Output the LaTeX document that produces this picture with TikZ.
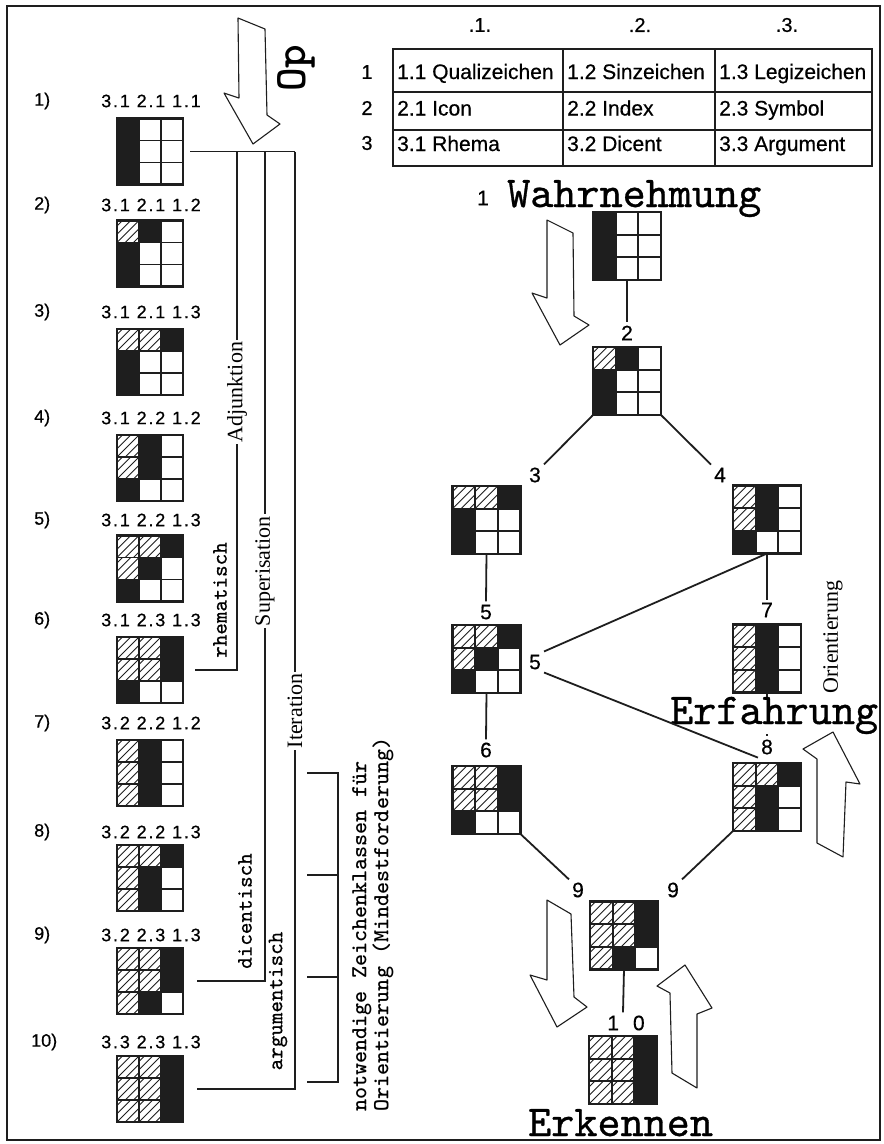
\documentclass[tikz,border=0pt]{standalone}
\usepackage{fontspec}
\setmainfont{Liberation Serif}
\setsansfont{Liberation Sans}[FakeBold=0.5]
\newfontfamily\spsans{Liberation Sans}[LetterSpace=10,FakeBold=0.5]
\newfontfamily\courf{lmmono10-regular.otf}[FakeBold=0.7]
\usetikzlibrary{calc}
\definecolor{ink}{HTML}{1E1E1E}
\tikzset{
 rowlab/.style={font=\sffamily\fontsize{18}{18}\selectfont, inner sep=0pt, anchor=west},
 speclab/.style={font=\spsans\fontsize{18}{18}\selectfont, inner sep=0pt},
 tabtxt/.style={font=\sffamily\fontsize{21}{21}\selectfont, inner sep=0pt, anchor=base west},
 tabnum/.style={font=\sffamily\fontsize{20}{20}\selectfont, inner sep=0pt},
 treenum/.style={font=\sffamily\fontsize{21}{21}\selectfont, inner sep=3pt},
 bigword/.style={font=\courf\fontsize{44}{44}\selectfont, inner sep=0pt, anchor=base west},
 serlab/.style={font=\rmfamily\fontsize{22}{22}\selectfont, rotate=90, fill=white, inner sep=2pt},
 ttlab/.style={font=\courf\fontsize{22}{22}\selectfont, rotate=90, inner sep=0pt},
 conn/.style={draw=ink, line width=1.8pt},
 frameline/.style={draw=ink, line width=1.6pt},
 tabouter/.style={draw=ink, line width=2.6pt},
 tabinner/.style={draw=ink, line width=2pt},
 hollow/.style={draw=ink, line width=1.1pt, line join=round, fill=white},
 zkanchor/.style={inner sep=0pt, outer sep=0pt, draw=none},
 zkgrid/.style={draw=ink, line width=1.8pt},
 zkborder/.style={draw=ink, line width=2.4pt},
 zkhatch/.style={draw=ink, line width=0.9pt},
}
% #1 name, #2 centre, #3 size, #4 #5 #6 = black column in rows 1,2,3
\newcommand\zkmat[6]{%
 \node[zkanchor, minimum size=#3pt] (#1) at (#2) {};
 \pgfmathsetmacro\zs{#3/3}%
 \begin{scope}[shift={(#1.north west)}]
  \foreach \r/\v in {0/#4,1/#5,2/#6}{%
   \foreach \c in {0,1,2}{%
    \pgfmathtruncatemacro\cc{\c+1}%
    \ifnum\cc<\v\relax
     \begin{scope}
      \clip (\c*\zs,\r*\zs) rectangle ++(\zs,\zs);
      \foreach \a in {-0.75,-0.375,0,0.375,0.75}{\draw[zkhatch] ({(\c+\a)*\zs},{(\r+1)*\zs}) -- ++(\zs,-\zs);}
     \end{scope}
    \fi
    \ifnum\cc=\v\relax
     \fill[ink] (\c*\zs,\r*\zs) rectangle ++(\zs,\zs);
    \fi
   }}
  \draw[zkgrid] (\zs,0) -- (\zs,3*\zs) (2*\zs,0) -- (2*\zs,3*\zs) (0,\zs) -- (3*\zs,\zs) (0,2*\zs) -- (3*\zs,2*\zs);
  \draw[zkborder] (0,0) rectangle (3*\zs,3*\zs);
 \end{scope}
}
\begin{document}
\begin{tikzpicture}[x=1pt,y=-1pt]
\useasboundingbox (0,0) rectangle (884,1144);
\fill[white] (0,0) rectangle (884,1144);
\draw[frameline] (7,6) rectangle (880,1140);

% ---------- left column ----------
\node[rowlab] (n1) at (34,101) {1)};
\node[rowlab] (n2) at (34,205) {2)};
\node[rowlab] (n3) at (34,312) {3)};
\node[rowlab] (n4) at (34,418) {4)};
\node[rowlab] (n5) at (34,520) {5)};
\node[rowlab] (n6) at (34,620) {6)};
\node[rowlab] (n7) at (34,723) {7)};
\node[rowlab] (n8) at (34,832) {8)};
\node[rowlab] (n9) at (34,935) {9)};
\node[rowlab] (n10) at (31,1042) {10)};

\node[speclab] (s1) at (151,101) {3.1 2.1 1.1};
\node[speclab] (s2) at (151,205) {3.1 2.1 1.2};
\node[speclab] (s3) at (151,312) {3.1 2.1 1.3};
\node[speclab] (s4) at (151,418) {3.1 2.2 1.2};
\node[speclab] (s5) at (151,520) {3.1 2.2 1.3};
\node[speclab] (s6) at (151,620) {3.1 2.3 1.3};
\node[speclab] (s7) at (151,723) {3.2 2.2 1.2};
\node[speclab] (s8) at (151,832) {3.2 2.2 1.3};
\node[speclab] (s9) at (151,935) {3.2 2.3 1.3};
\node[speclab] (s10) at (151,1042) {3.3 2.3 1.3};

\zkmat{L1}{150,151.5}{66}{1}{1}{1}
\zkmat{L2}{150,253.5}{66}{2}{1}{1}
\zkmat{L3}{150,362}{66}{3}{1}{1}
\zkmat{L4}{150,468}{66}{2}{2}{1}
\zkmat{L5}{150,568.5}{66}{3}{2}{1}
\zkmat{L6}{150,670}{66}{3}{3}{1}
\zkmat{L7}{150,773}{66}{2}{2}{2}
\zkmat{L8}{150,878}{66}{3}{2}{2}
\zkmat{L9}{150,981}{66}{3}{3}{2}
\zkmat{L10}{150,1089}{66}{3}{3}{3}

% Op arrow
\draw[hollow] (238,18) -- (265,29) -- (267,115) -- (280,124) -- (253,144) -- (224,93) -- (239,98) -- cycle;
\node[font=\ttfamily\bfseries\fontsize{45}{45}\selectfont, rotate=90, inner sep=0pt] (op) at (296,68) {Op};

% connector tree on the left
\coordinate (jA) at (237,151.5);
\coordinate (jS) at (265,151.5);
\coordinate (jI) at (295,151.5);
\draw[conn] ([xshift=7pt]L1.east) -- (jI);
\draw[conn] (jA) |- ([xshift=12pt]L6.east);
\draw[conn] (jS) |- ([xshift=14pt]L9.east);
\draw[conn] (jI) |- ([xshift=14pt]L10.east);
\node[serlab] (adj) at (237,392) {Adjunktion};
\node[serlab] (sup) at (265,571) {Superisation};
\node[serlab] (ite) at (295,711) {Iteration};
\node[ttlab] (rhe) at (220,600) {rhematisch};
\node[ttlab] (dic) at (245,911) {dicentisch};
\node[ttlab] (arg) at (278,1001) {argumentisch};

% bracket
\coordinate (k7) at (307,773);
\coordinate (k8) at (307,875);
\coordinate (k9) at (307,977);
\coordinate (k10) at (307,1082);
\coordinate (b7) at (338,773);
\coordinate (b10) at (338,1082);
\draw[conn] (k7) -- (b7) -- (b10) -- (k10);
\draw[conn] (k8) -- (k8 -| b7);
\draw[conn] (k9) -- (k9 -| b7);
\node[font=\ttfamily\bfseries\fontsize{23}{22}\selectfont, rotate=90, anchor=north west, align=left, inner sep=0pt] (nz) at (352,1112)
 {notwendige Zeichenklassen für\\Orientierung (Mindestforderung)};

% ---------- table ----------
\node[tabnum] (h1) at (480,25) {.1.};
\node[tabnum] (h2) at (640,25) {.2.};
\node[tabnum] (h3) at (787,25) {.3.};
\node[tabnum] (r1) at (367,72) {1};
\node[tabnum] (r2) at (367,108) {2};
\node[tabnum] (r3) at (367,143) {3};
\draw[tabinner] (563,49) -- (563,166) (715,49) -- (715,166) (393,92) -- (872,92) (393,130) -- (872,130);
\draw[tabouter] (393,49) rectangle (872,166);
\node[tabtxt] (c11) at (397,79) {1.1 Qualizeichen};
\node[tabtxt] (c12) at (567,79) {1.2 Sinzeichen};
\node[tabtxt] (c13) at (719,79) {1.3 Legizeichen};
\node[tabtxt] (c21) at (397,115.5) {2.1 Icon};
\node[tabtxt] (c22) at (567,115.5) {2.2 Index};
\node[tabtxt] (c23) at (719,115.5) {2.3 Symbol};
\node[tabtxt] (c31) at (397,151) {3.1 Rhema};
\node[tabtxt] (c32) at (567,151) {3.2 Dicent};
\node[tabtxt] (c33) at (719,151) {3.3 Argument};

% ---------- tree ----------
\node[treenum] (t1) at (483,198) {1};
\node[bigword] (wahr) at (507,207) {Wahrnehmung};
\draw[hollow] (547,220) -- (573,233) -- (574,316) -- (589,325) -- (560,345) -- (532,293) -- (547,298) -- cycle;

\zkmat{R1}{627,246}{68}{1}{1}{1}
\zkmat{R2}{627,381}{68}{2}{1}{1}
\zkmat{R3}{486.5,520}{68}{3}{1}{1}
\zkmat{R4}{767,519.5}{68}{2}{2}{1}
\zkmat{R5}{486.5,659}{68}{3}{2}{1}
\zkmat{R7}{767,658.5}{68}{2}{2}{2}
\zkmat{R6}{486.5,800}{68}{3}{3}{1}
\zkmat{R8}{767,797}{68}{3}{2}{2}
\zkmat{R9}{624,935.5}{68}{3}{3}{2}
\zkmat{R10}{623,1070}{68}{3}{3}{3}

\node[treenum] (t2) at (627,333) {2};
\node[treenum] (t3) at (535,475) {3};
\node[treenum] (t4) at (720,475) {4};
\node[treenum] (t5) at (486,612) {5};
\node[treenum] (t7) at (767,610) {7};
\node[treenum] (t5b) at (535,662) {5};
\node[treenum] (t6) at (486,750) {6};
\node[treenum] (t8) at (767,747) {8};
\node[treenum] (t9a) at (578,890) {9};
\node[treenum] (t9b) at (673,890) {9};
\node[treenum] (t10) at (626,1023) {1\hspace{14pt}0};

\draw[conn] (R1.south) -- (t2.north);
\draw[conn] (R2.south west) -- (t3.north east);
\draw[conn] (R2.south east) -- (t4.north west);
\draw[conn] (R3.south) -- (t5.north);
\draw[conn] (R4.south) -- (t7.north);
\draw[conn] (t5b.north east) -- (R4.south);
\draw[conn] (R5.south) -- (t6.north);
\draw[conn] (R7.south) -- (t8.north);
\node[bigword, fill=white] (erf) at (670,724) {Erfahrung};
\draw[conn] (t5b.south east) -- (t8.south west);
\draw[conn] (R6.south east) -- (t9a.north west);
\draw[conn] (R8.south west) -- (t9b.north east);
\draw[conn] (R9.south) -- ([xshift=-3pt]t10.north);

\node[font=\rmfamily\fontsize{22}{22}\selectfont, rotate=90, inner sep=0pt] (ori) at (833,637) {Orientierung};
\draw[hollow] (833,732) -- (860,784) -- (846,782) -- (843,857) -- (817,843) -- (817,759) -- (803,749) -- cycle;

\draw[hollow] (547,900) -- (571,914) -- (574,997) -- (587,1007) -- (557,1027) -- (530,975) -- (547,980) -- cycle;
\draw[hollow] (685,965) -- (712,1008) -- (697,1014) -- (697,1088) -- (672,1073) -- (670,993) -- (657,986) -- cycle;

\node[bigword] (erk) at (528,1136) {Erkennen};
\end{tikzpicture}
\end{document}
